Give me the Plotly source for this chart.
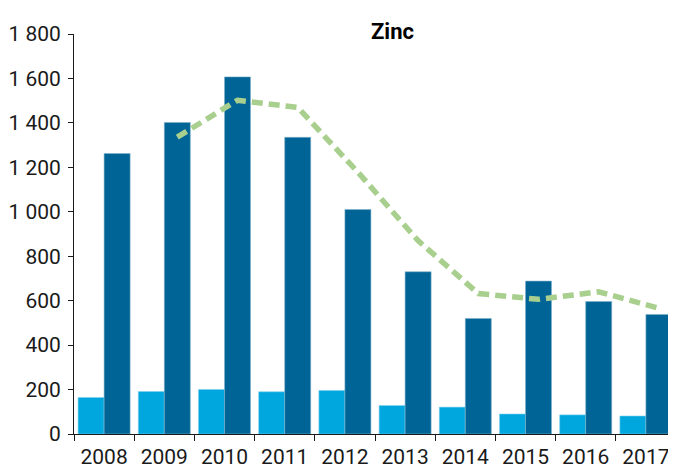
import plotly.graph_objects as go

years = ["2008", "2009", "2010", "2011", "2012", "2013", "2014", "2015", "2016", "2017"]
light_vals = [164, 191, 200, 190, 196, 128, 121, 90, 86, 81]
dark_vals = [1262, 1402, 1607, 1335, 1010, 730, 520, 688, 596, 538]
line_years = ["2009", "2010", "2011", "2012", "2013", "2014", "2015", "2016", "2017"]
line_vals = [1336, 1502, 1470, 1178, 870, 632, 606, 640, 566]
y_ticks = [0, 200, 400, 600, 800, 1000, 1200, 1400, 1600, 1800]

LIGHT = "#00a6de"
DARK = "#006496"
GREEN = "#a9cf8f"
FONT = "Roboto, Liberation Sans, sans-serif"
BARGAP = 0.136

# the page body adds an 8px offset; margins compensate
L, R, T, B = 66, 8, 26, 43
PW = 676 - L - R

fig = go.Figure()
fig.add_trace(go.Bar(x=years, y=light_vals, marker=dict(color=LIGHT, line=dict(color="#7fd0ee", width=0.6)),
                     showlegend=False, hoverinfo="skip"))
fig.add_trace(go.Bar(x=years, y=dark_vals, marker=dict(color=DARK, line=dict(color="#7fb1ca", width=0.6)),
                     showlegend=False, hoverinfo="skip"))

# line drawn at the centre of the dark bars (numeric overlay axis)
offset = (1 - BARGAP) / 4
line_x = [years.index(y) + offset for y in line_years]
fig.add_trace(go.Scatter(x=line_x, y=line_vals, xaxis="x2", mode="lines",
                         line=dict(color=GREEN, width=5.5, dash="11px,6px"),
                         showlegend=False, hoverinfo="skip"))

fig.update_layout(
    width=676, height=469,
    margin=dict(l=L, r=R, t=T, b=B),
    paper_bgcolor="white", plot_bgcolor="white",
    barmode="group", bargap=BARGAP, bargroupgap=0,
    separators=". ",
    font=dict(family=FONT, size=21, color="#1a1a1a"),
    xaxis=dict(type="category", range=[-0.5, 9.5], tickson="boundaries",
               showline=True, linecolor="#1a1a1a", linewidth=1,
               ticks="outside", ticklen=6, tickcolor="#1a1a1a",
               showgrid=False, zeroline=False, tickangle=0, automargin=False,
               ticklabelstandoff=4,
               tickfont=dict(family=FONT, size=21, color="#1a1a1a")),
    xaxis2=dict(overlaying="x", range=[-0.5, 9.5], visible=False),
    yaxis=dict(range=[0, 1800], tickvals=y_ticks, tickformat=",d",
               showline=True, linecolor="#1a1a1a", linewidth=1,
               ticks="outside", ticklen=5, tickcolor="#1a1a1a",
               showgrid=False, zeroline=False, automargin=False,
               ticklabelstandoff=3,
               tickfont=dict(family=FONT, size=21, color="#1a1a1a")),
    annotations=[
        dict(text="<b>Zinc</b>", xref="paper", yref="paper", x=(384 - L) / PW, y=1.0,
             xanchor="center", yanchor="bottom", showarrow=False, yshift=-12,
             font=dict(family=FONT, size=22, color="#000000")),
        dict(text="(kt)", xref="paper", yref="paper", x=(220 - L) / PW, y=1.0,
             yshift=28, xanchor="center", yanchor="bottom", showarrow=False,
             font=dict(family=FONT, size=21, color="#1a1a1a")),
    ],
)

fig.write_html("out.html")
